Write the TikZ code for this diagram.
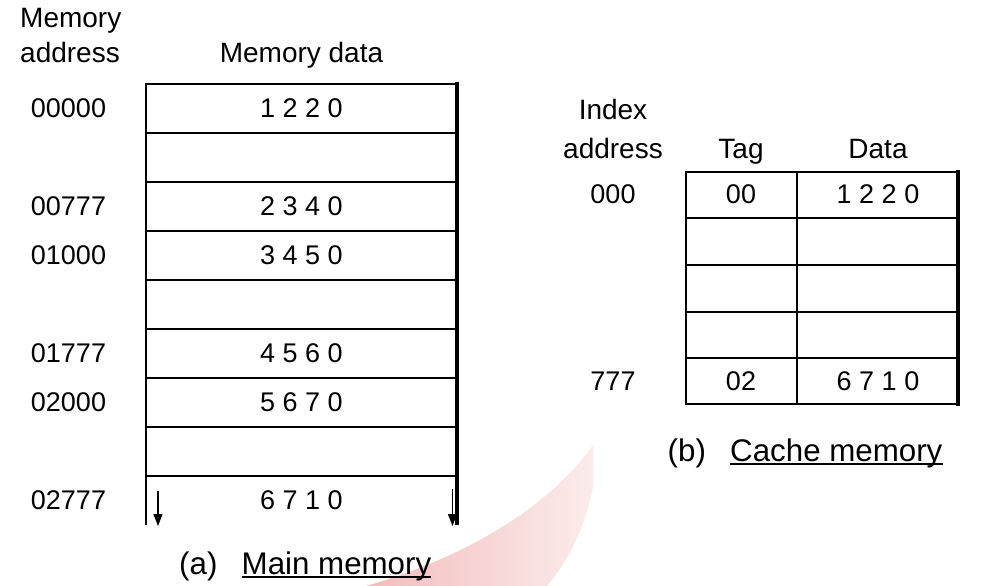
\documentclass[tikz,border=0pt]{standalone}
\usepackage{fontspec}
\setmainfont{Liberation Sans}
\usetikzlibrary{arrows.meta}
\begin{document}
\begin{tikzpicture}[x=1pt,y=-1pt,
  lbl/.style={inner sep=0pt,anchor=base,font=\fontsize{28}{32}\selectfont},
  num/.style={inner sep=0pt,anchor=base,font=\fontsize{27}{32}\selectfont},
  captxt/.style={inner sep=0pt,anchor=base west,font=\fontsize{31.3}{36}\selectfont},
  gridline/.style={line width=1.6pt,line cap=rect},
  thickside/.style={line width=3.6pt},
  underl/.style={line width=1.5pt},
  downarrow/.style={line width=1.2pt,-{Triangle[length=12pt,width=9pt]}}]
\useasboundingbox (0,0) rectangle (993,586);

% soft pink swoosh in the background
\shade[left color={rgb,255:red,243;green,188;blue,188},
       right color={rgb,255:red,252;green,236;blue,236}]
  (593,445) -- (593,487) .. controls (585,530) and (565,565) .. (547,586)
  -- (366,586) .. controls (440,565) and (540,520) .. (593,445) -- cycle;

% ---------------- main memory ----------------
\node[lbl,anchor=base west] (hmem) at (20,28) {Memory};
\node[lbl,anchor=base west] (hadr) at (20,63) {address};
\node[lbl] (hdata) at (301.5,63) {Memory data};

\draw[gridline] (146,84) -- (146,524);
\foreach \y in {84,133,182,231,280,329,378,427,476}
  \draw[gridline] (146,\y) -- (457,\y);
\draw[thickside] (457,82.2) -- (457,525);

\foreach \n/\a/\d/\y in {m0/00000/1 2 2 0/117, m1/00777/2 3 4 0/215,
    m2/01000/3 4 5 0/264, m3/01777/4 5 6 0/362, m4/02000/5 6 7 0/411,
    m5/02777/6 7 1 0/509}{
  \node[num] (a\n) at (68.5,\y) {\a};
  \node[num] (d\n) at (301.5,\y) {\d};
}

\coordinate (la1) at (158,491); \coordinate (la2) at (158,526);
\coordinate (ra1) at (452.5,489); \coordinate (ra2) at (452.5,526);
\draw[downarrow] (la1) -- (la2);
\draw[downarrow] (ra1) -- (ra2);

\node[captxt] (capa) at (179,574) {(a)};
\node[captxt] (capm) at (241.5,574) {Main memory};
\draw[underl] ([yshift=-3pt]capm.base west) -- ([yshift=-3pt]capm.base east);

% ---------------- cache memory ----------------
\node[lbl] (hidx) at (613,119) {Index};
\node[lbl] (hiad) at (613,158) {address};
\node[lbl] (htag) at (741,158) {Tag};
\node[lbl] (hcd) at (878,158) {Data};

\foreach \y in {172,218,265,312,358,404}
  \draw[gridline] (686,\y) -- (958,\y);
\draw[gridline] (686,172) -- (686,404);
\draw[gridline] (797,172) -- (797,404);
\draw[thickside] (958,170.2) -- (958,405.8);

\node[num] (ci0) at (613,203) {000};
\node[num] (ct0) at (741,203) {00};
\node[num] (cd0) at (878,203) {1 2 2 0};
\node[num] (ci7) at (613,390) {777};
\node[num] (ct7) at (741,390) {02};
\node[num] (cd7) at (878,390) {6 7 1 0};

\node[captxt] (capb) at (667.5,461) {(b)};
\node[captxt] (capc) at (730,461) {Cache memory};
\draw[underl] ([yshift=-3pt]capc.base west) -- ([yshift=-3pt]capc.base east);
\end{tikzpicture}
\end{document}
